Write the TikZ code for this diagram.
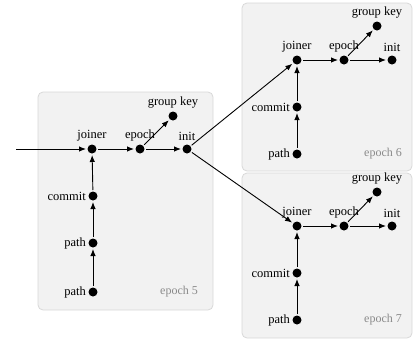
\documentclass[tikz,border=0pt]{standalone}
\usepackage{fontspec}
\setmainfont{Liberation Serif}
\usetikzlibrary{arrows.meta}
\definecolor{boxfill}{HTML}{F2F2F2}
\definecolor{boxline}{HTML}{D8D8D8}
\definecolor{capgray}{HTML}{8A8A8A}
\tikzset{
  dot/.style={circle,fill=black,inner sep=0pt,minimum size=9pt,outer sep=1.5pt},
  epochbox/.style={draw=boxline,fill=boxfill,rounded corners=5pt,line width=0.8pt},
  caption/.style={text=capgray,font=\fontsize{12}{14}\selectfont},
  flow/.style={-{Latex[length=7pt,width=5.5pt]},line width=0.9pt},
  every label/.style={font=\fontsize{12.5}{14}\selectfont,inner sep=1pt},
  every node/.append style={font=\fontsize{12.5}{14}\selectfont}
}
\begin{document}
\begin{tikzpicture}[x=1pt,y=-1pt]
\useasboundingbox (0,0) rectangle (413,341);

% epoch frames
\draw[epochbox] (38,92) rectangle (213,310);
\draw[epochbox] (242,3) rectangle (412,171);
\draw[epochbox] (242,173) rectangle (412,338);

% epoch 5
\coordinate (in) at (16,149);
\node[dot,label={[label distance=1pt]above:joiner}] (j5) at (92,149) {};
\node[dot,label={[label distance=1pt]above:epoch}] (e5) at (140,149) {};
\node[dot,label={[label distance=1pt]above:init}] (i5) at (187,149) {};
\node[dot,label={[label distance=1pt]above:group key}] (g5) at (173,116) {};
\node[dot,label={[label distance=0pt]left:commit}] (c5) at (93,196) {};
\node[dot,label={[label distance=0pt]left:path}] (pa5) at (93,243) {};
\node[dot,label={[label distance=0pt]left:path}] (pb5) at (93,292) {};
\node[caption] (t5) at (179,292) {epoch 5};

% epoch 6
\node[dot,label={[label distance=1pt]above:joiner}] (j6) at (297,60) {};
\node[dot,label={[label distance=1pt]above:epoch}] (e6) at (344,60) {};
\node[dot,label={[label distance=1pt]above:init}] (i6) at (392,60) {};
\node[dot,label={[label distance=1pt]above:group key}] (g6) at (377,26) {};
\node[dot,label={[label distance=0pt]left:commit}] (c6) at (297,107) {};
\node[dot,label={[label distance=0pt]left:path}] (p6) at (297,154) {};
\node[caption] (t6) at (383,154) {epoch 6};

% epoch 7
\node[dot,label={[label distance=1pt]above:joiner}] (j7) at (297,226) {};
\node[dot,label={[label distance=1pt]above:epoch}] (e7) at (344,226) {};
\node[dot,label={[label distance=1pt]above:init}] (i7) at (392,226) {};
\node[dot,label={[label distance=1pt]above:group key}] (g7) at (377,192) {};
\node[dot,label={[label distance=0pt]left:commit}] (c7) at (297,273) {};
\node[dot,label={[label distance=0pt]left:path}] (p7) at (297,320) {};
\node[caption] (t7) at (383,320) {epoch 7};

% connectors
\draw[flow] (in) -- (j5);
\draw[flow] (pb5) -- (pa5);
\draw[flow] (pa5) -- (c5);
\draw[flow] (c5) -- (j5);
\draw[flow] (j5) -- (e5);
\draw[flow] (e5) -- (i5);
\draw[flow] (e5) -- (g5);
\draw[flow] (i5) -- (j6);
\draw[flow] (i5) -- (j7);

\draw[flow] (p6) -- (c6);
\draw[flow] (c6) -- (j6);
\draw[flow] (j6) -- (e6);
\draw[flow] (e6) -- (i6);
\draw[flow] (e6) -- (g6);

\draw[flow] (p7) -- (c7);
\draw[flow] (c7) -- (j7);
\draw[flow] (j7) -- (e7);
\draw[flow] (e7) -- (i7);
\draw[flow] (e7) -- (g7);
\end{tikzpicture}
\end{document}
